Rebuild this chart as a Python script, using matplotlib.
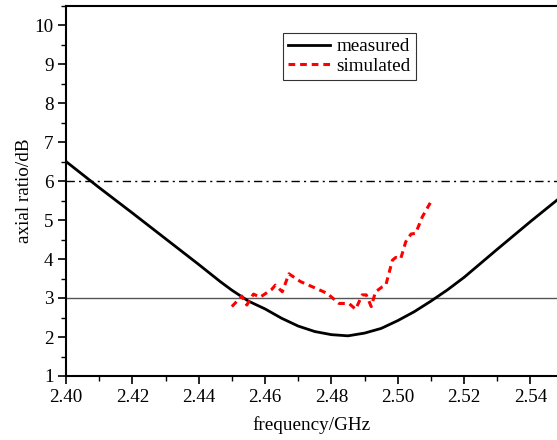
import matplotlib
matplotlib.use("Agg")
import matplotlib.pyplot as plt
import numpy as np
from matplotlib.ticker import MultipleLocator

plt.rcParams['font.family'] = ['Liberation Serif', 'DejaVu Serif']
plt.rcParams['mathtext.fontset'] = 'stix'

meas_f = [2.400, 2.410, 2.420, 2.430, 2.440, 2.4465, 2.450, 2.455, 2.460, 2.465, 2.470,
          2.475, 2.480, 2.485, 2.490, 2.495, 2.500, 2.505, 2.510, 2.515, 2.520,
          2.530, 2.540, 2.548]
meas_ar = [6.50, 5.83, 5.18, 4.52, 3.86, 3.42, 3.20, 2.92, 2.72, 2.48, 2.28,
           2.14, 2.06, 2.03, 2.10, 2.22, 2.42, 2.65, 2.92, 3.21, 3.53,
           4.25, 4.96, 5.51]

sim_f = [2.4500, 2.4530, 2.4545, 2.4565, 2.4585, 2.4620, 2.4631, 2.4652, 2.4672, 2.4707,
         2.4742, 2.4787, 2.4823, 2.4853, 2.4873, 2.4893, 2.4905, 2.4920, 2.4933, 2.4954,
         2.4964, 2.4984, 2.4994, 2.5009, 2.5024, 2.5040, 2.5054, 2.5074, 2.5098]
sim_ar = [2.78, 3.05, 2.82, 3.10, 3.02, 3.22, 3.33, 3.16, 3.62, 3.42,
          3.29, 3.12, 2.86, 2.86, 2.71, 3.08, 3.08, 2.78, 3.16, 3.29,
          3.33, 3.97, 4.04, 4.01, 4.44, 4.64, 4.66, 5.08, 5.44]

x_ticks = [2.40, 2.42, 2.44, 2.46, 2.48, 2.50, 2.52, 2.54]
y_ticks = [1, 2, 3, 4, 5, 6, 7, 8, 9, 10]

FS = 13.8

fig = plt.figure(figsize=(5.57, 4.40), dpi=100)
ax = fig.add_axes([66/557, 1-376/440, 1-66/557, (376-5.5)/440])

ax.axhline(3, color='#555555', lw=1.0, zorder=1)
ax.axhline(6, color='black', lw=1.0, ls=(0, (6, 3, 1.5, 3)), zorder=1)

ax.plot(meas_f, meas_ar, color='black', lw=2.0, label='measured', zorder=3)
ax.plot(sim_f, sim_ar, color='#ff0000', lw=2.2, ls=(0, (2.2, 1.6)), label='simulated', zorder=4)

ax.set_xlim(2.40, 2.548)
ax.set_ylim(1, 10.5)
ax.set_xticks(x_ticks)
ax.set_xticklabels([f"{v:.2f}" for v in x_ticks])
ax.set_yticks(y_ticks)
ax.xaxis.set_minor_locator(MultipleLocator(0.01))
ax.yaxis.set_minor_locator(MultipleLocator(0.5))
ax.tick_params(which='major', direction='out', length=6, width=1.2, labelsize=FS, top=False, right=False, pad=3)
ax.tick_params(which='minor', direction='out', length=3.5, width=1.0, top=False, right=False)
for s in ['left', 'bottom', 'top']:
    ax.spines[s].set_linewidth(1.5)
ax.spines['right'].set_visible(False)

ax.set_xlabel('frequency/GHz', fontsize=FS, labelpad=8)
ax.set_ylabel('axial ratio/dB', fontsize=FS, labelpad=1)

leg = ax.legend(loc='upper left', bbox_to_anchor=(0.442, 0.925), fontsize=FS, frameon=True,
                fancybox=False, edgecolor='black', handlelength=2.2, borderpad=0.25,
                labelspacing=0.1, handletextpad=0.35, borderaxespad=0)
leg.get_frame().set_linewidth(0.8)

fig.savefig('out.png', dpi=100)
